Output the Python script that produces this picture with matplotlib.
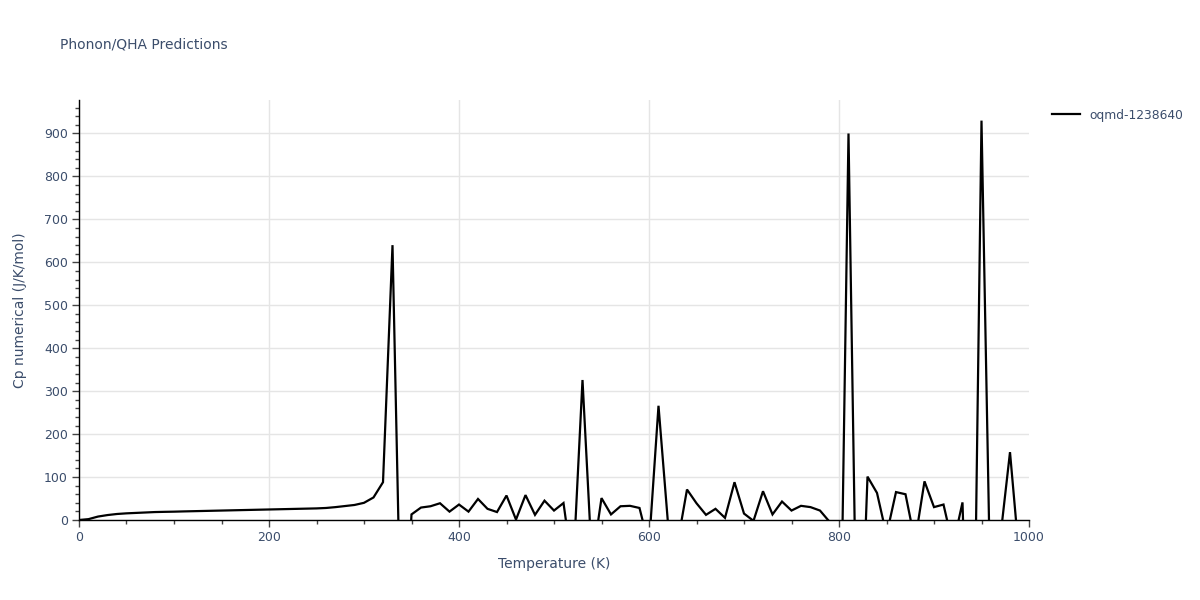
import numpy as np
import matplotlib.pyplot as plt
from matplotlib.ticker import MultipleLocator

plt.rcParams['font.family'] = ['DejaVu Sans']

# temperature grid (K) and Cp values; negatives are clipped by the axis
temperature = list(range(0, 1010, 10))
cp = [
    0, 2, 8, 11.5, 14, 15.5, 16.5, 17.5, 18.5, 19,          # 0-90
    19.4, 20, 20.5, 21, 21.5, 22, 22.5, 23, 23.5, 24,       # 100-190
    24.5, 25, 25.5, 26, 26.5, 27, 28, 30, 32.5, 35,         # 200-290
    40, 52.5, 88, 640, -400, 13, 29, 32, 39, 19.5,          # 300-390
    36, 19.5, 49, 26, 18.5, 57, 1, 58, 12, 45,              # 400-490
    22, 39.5, -120, 326, -100, 51, 13, 32, 33, 28,          # 500-590
    -60, 266, -8, -55, 71, 39, 12, 26, 5, 88,               # 600-690
    15, -2, 67, 13, 43, 22, 33, 30, 22, -4,                 # 700-790
    -550, 900, -500, 101, 63, -35, 65, 60, -50, 90,         # 800-890
    30, 36, -60, 41, -700, 930, -250, -37, 158, -93,        # 900-990
    -50,                                                    # 1000
]
series_name = 'oqmd-1238640'

text_color = '#3b4d6b'
grid_color = '#e5e5e5'

fig = plt.figure(figsize=(12, 6), dpi=100)
ax = fig.add_axes([79 / 1200, 80 / 600, 950 / 1200, 420 / 600])

ax.plot(temperature, cp, color='black', linewidth=1.6, label=series_name,
        solid_joinstyle='miter')

ax.set_xlim(0, 1000)
ax.set_ylim(0, 978)

ax.xaxis.set_major_locator(MultipleLocator(200))
ax.xaxis.set_minor_locator(MultipleLocator(50))
ax.yaxis.set_major_locator(MultipleLocator(100))
ax.yaxis.set_minor_locator(MultipleLocator(20))

ax.grid(True, which='major', color=grid_color, linewidth=1)
ax.set_axisbelow(True)

for side in ['top', 'right']:
    ax.spines[side].set_visible(False)
for side in ['left', 'bottom']:
    ax.spines[side].set_color('black')
    ax.spines[side].set_linewidth(1)

ax.tick_params(which='major', length=5, width=1, color='#444444',
               labelcolor=text_color, labelsize=9, direction='out', pad=3)
ax.tick_params(which='minor', length=3, width=1, color='#444444', direction='out')

ax.set_xlabel('Temperature (K)', color=text_color, fontsize=10, labelpad=9)
ax.set_ylabel('Cp numerical (J/K/mol)', color=text_color, fontsize=10, labelpad=12)

fig.text(60 / 1200, 1 - 45 / 600, 'Phonon/QHA Predictions', color=text_color,
         fontsize=10, va='center', ha='left')

leg = ax.legend(loc='upper left', bbox_to_anchor=(1.015, 1.0), frameon=False,
                fontsize=8.8, handlelength=2.3, borderaxespad=0.3)
for t in leg.get_texts():
    t.set_color(text_color)

# hide the vertical gridline sitting on the right edge (x = 1000)
fig.canvas.draw()
for tick in ax.xaxis.get_major_ticks():
    if tick.get_loc() >= 1000:
        tick.gridline.set_visible(False)

fig.savefig('out.png', dpi=100)
